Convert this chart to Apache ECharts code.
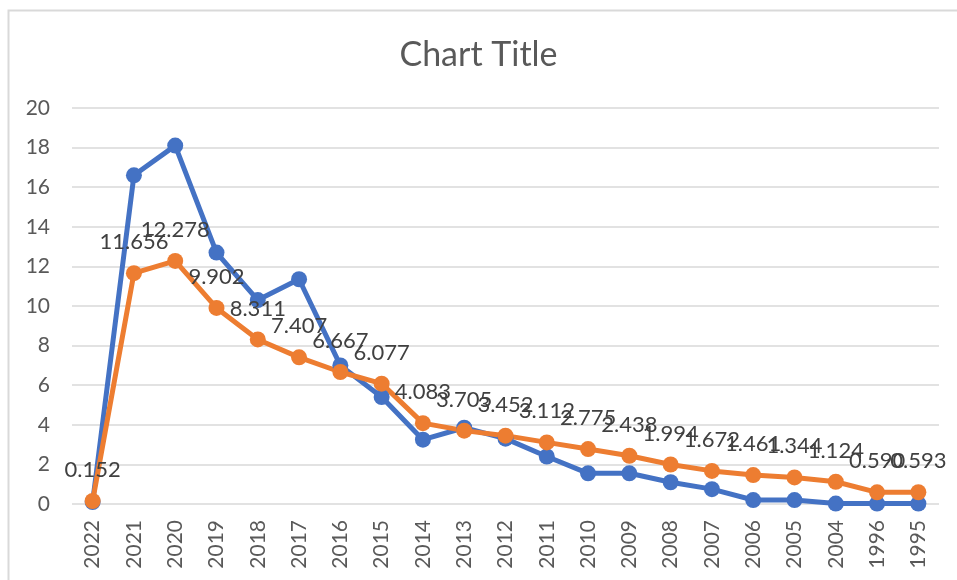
<!DOCTYPE html>
<html>
<head>
<meta charset="utf-8">
<script src="https://cdn.jsdelivr.net/npm/echarts@6/dist/echarts.min.js"></script>
<style>
  html, body { margin: 0; padding: 0; background: #fff; }
  #chart { width: 957px; height: 580px; }
</style>
</head>
<body>
<div id="chart"></div>
<script>
// categories (years, as in the sheet order)
const years = ['2022', '2021', '2020', '2019', '2018', '2017', '2016', '2015', '2014', '2013', '2012',
    '2011', '2010', '2009', '2008', '2007', '2006', '2005', '2004', '1996', '1995'];

// blue series (no labels in the source)
const seriesBlue = [0.1, 16.6, 18.1, 12.7, 10.3, 11.35, 7.0, 5.4, 3.25, 3.85, 3.3,
    2.4, 1.55, 1.55, 1.1, 0.75, 0.2, 0.2, 0.02, 0.02, 0.02];

// orange series (labelled values)
const seriesOrange = [0.152, 11.656, 12.278, 9.902, 8.311, 7.407, 6.667, 6.077, 4.083, 3.705, 3.452,
    3.112, 2.775, 2.438, 1.994, 1.672, 1.461, 1.344, 1.124, 0.590, 0.593];

// y axis ticks
const yTicks = [0, 2, 4, 6, 8, 10, 12, 14, 16, 18, 20];

const font = 'Lato, "Open Sans", sans-serif';
let chart = echarts.init(document.getElementById('chart'), null, { renderer: 'canvas' });

const option = {
    backgroundColor: '#fff',
    animation: false,
    title: {
        text: 'Chart Title',
        left: 'center',
        top: 33,
        textStyle: { fontFamily: font, fontSize: 34, fontWeight: 'normal', color: '#595959' }
    },
    // chart area border like the spreadsheet frame
    graphic: [{
        type: 'rect',
        shape: { x: 8.5, y: 10.5, width: 1000, height: 700 },
        style: { fill: 'none', stroke: '#d9d9d9', lineWidth: 2 },
        silent: true
    }],
    grid: { left: 72, right: 18, top: 108, bottom: 76 },
    xAxis: {
        type: 'category',
        data: years,
        boundaryGap: true,
        axisLine: { show: false },
        axisTick: { show: false },
        axisLabel: {
            rotate: 90,
            margin: 16,
            fontFamily: font,
            fontSize: 21,
            color: '#595959'
        }
    },
    yAxis: {
        type: 'value',
        min: yTicks[0],
        max: yTicks[yTicks.length - 1],
        interval: yTicks[1] - yTicks[0],
        axisLine: { show: false },
        axisTick: { show: false },
        splitLine: { lineStyle: { color: '#d9d9d9', width: 1.5 } },
        axisLabel: {
            margin: 22,
            fontFamily: font,
            fontSize: 21,
            color: '#595959'
        }
    },
    series: [{
        name: 'Series1',
        type: 'line',
        data: seriesBlue,
        symbol: 'circle',
        symbolSize: 16,
        lineStyle: { color: '#4472c4', width: 5 },
        itemStyle: { color: '#4472c4' }
    }, {
        name: 'Series2',
        type: 'line',
        data: seriesOrange,
        symbol: 'circle',
        symbolSize: 16,
        lineStyle: { color: '#ed7d31', width: 5 },
        itemStyle: { color: '#ed7d31' },
        label: {
            show: true,
            position: 'top',
            distance: 12,
            fontFamily: font,
            fontSize: 22,
            color: '#404040',
            formatter: function (p) { return p.value.toFixed(3); }
        },
        labelLayout: { hideOverlap: false }
    }]
};

chart.setOption(option);
</script>
</body>
</html>
